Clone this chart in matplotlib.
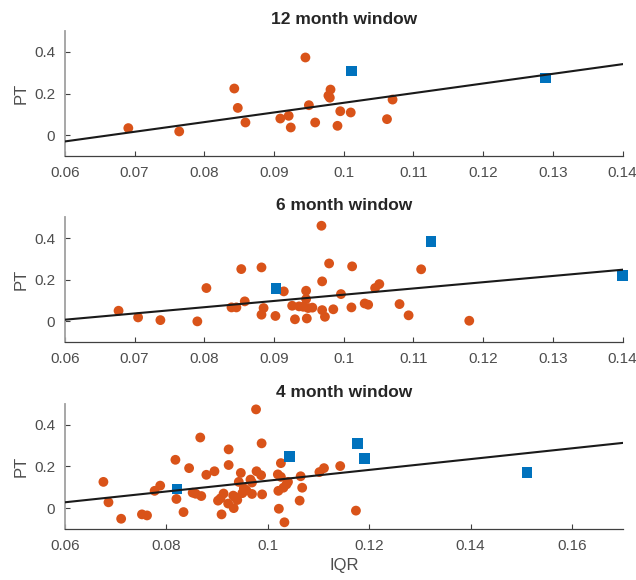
import numpy as np
import matplotlib
matplotlib.use("Agg")
import matplotlib.pyplot as plt
from matplotlib.ticker import FuncFormatter

plt.rcParams['font.family'] = ['Liberation Sans', 'DejaVu Sans']

# ---- data ----
# 12 month window
iqr_12 = [0.0691, 0.0764, 0.0843, 0.0848, 0.0859, 0.0909, 0.0921, 0.0924, 0.0945,
          0.0950, 0.0959, 0.0978, 0.0980, 0.0981, 0.0991, 0.0995, 0.1010, 0.1062, 0.1070]
pt_12 = [0.034, 0.018, 0.224, 0.131, 0.061, 0.080, 0.093, 0.037, 0.373,
         0.144, 0.061, 0.190, 0.180, 0.219, 0.045, 0.115, 0.109, 0.077, 0.171]
iqr_12_sq = [0.1011, 0.1289]
pt_12_sq = [0.309, 0.274]
fit_12 = [-0.030, 0.341]   # line value at the two x limits

# 6 month window
iqr_6 = [0.0677, 0.0705, 0.0737, 0.0790, 0.0803, 0.0839, 0.0846, 0.0853, 0.0858,
         0.0882, 0.0882, 0.0885, 0.0902, 0.0914, 0.0926, 0.0930, 0.0936, 0.0942,
         0.0946, 0.0946, 0.0949, 0.0947, 0.0955, 0.0968, 0.0969, 0.0969, 0.0973,
         0.0979, 0.0985, 0.0996, 0.1011, 0.1012, 0.1030, 0.1035, 0.1045, 0.1051,
         0.1080, 0.1093, 0.1111, 0.1180]
pt_6 = [0.051, 0.019, 0.006, 0.000, 0.160, 0.067, 0.067, 0.251, 0.096,
        0.259, 0.032, 0.064, 0.026, 0.144, 0.075, 0.010, 0.072, 0.070,
        0.147, 0.107, 0.064, 0.014, 0.066, 0.459, 0.192, 0.054, 0.022,
        0.278, 0.058, 0.131, 0.067, 0.264, 0.086, 0.080, 0.160, 0.179,
        0.083, 0.029, 0.250, 0.003]
iqr_6_sq = [0.0903, 0.1125, 0.1400]
pt_6_sq = [0.158, 0.384, 0.219]
fit_6 = [0.008, 0.248]

# 4 month window
iqr_4 = [0.0676, 0.0686, 0.0711, 0.0752, 0.0762, 0.0777, 0.0788, 0.0818, 0.0820,
         0.0834, 0.0845, 0.0852, 0.0858, 0.0869, 0.0867, 0.0879, 0.0895, 0.0923,
         0.0923, 0.0902, 0.0907, 0.0909, 0.0913, 0.0922, 0.0933, 0.0936, 0.0940,
         0.0943, 0.0947, 0.0950, 0.0953, 0.0966, 0.0969, 0.0969, 0.0977, 0.0978,
         0.0987, 0.0988, 0.0989, 0.1020, 0.1026, 0.1026, 0.1021, 0.1031, 0.1037,
         0.1040, 0.1022, 0.1033, 0.1065, 0.1068, 0.1063, 0.1102, 0.1111, 0.1143,
         0.1174, 0.0958, 0.0932]
pt_4 = [0.126, 0.028, -0.051, -0.030, -0.035, 0.083, 0.108, 0.232, 0.044,
        -0.019, 0.192, 0.074, 0.069, 0.058, 0.339, 0.160, 0.177, 0.282,
        0.207, 0.036, 0.047, -0.030, 0.070, 0.022, 0.000, 0.052, 0.039,
        0.126, 0.169, 0.072, 0.095, 0.137, 0.123, 0.068, 0.474, 0.177,
        0.158, 0.311, 0.066, 0.162, 0.150, 0.216, 0.083, 0.098, 0.114,
        0.126, -0.003, -0.068, 0.153, 0.098, 0.036, 0.173, 0.192, 0.202,
        -0.012, 0.085, 0.060]
iqr_4_sq = [0.0821, 0.1043, 0.1177, 0.1191, 0.1511]
pt_4_sq = [0.091, 0.249, 0.311, 0.237, 0.172]
fit_4 = [0.028, 0.313]

panels = [
    ("12 month window", iqr_12, pt_12, iqr_12_sq, pt_12_sq, fit_12, (0.06, 0.14)),
    ("6 month window", iqr_6, pt_6, iqr_6_sq, pt_6_sq, fit_6, (0.06, 0.14)),
    ("4 month window", iqr_4, pt_4, iqr_4_sq, pt_4_sq, fit_4, (0.06, 0.17)),
]

orange = '#D95319'
blue = '#0072BD'
txt = '#4d4d4d'

fig = plt.figure(figsize=(6.36, 5.8), dpi=100)
bottoms = [0.731, 0.410, 0.088]

for (title, x, y, xs, ys, fit, xl), b in zip(panels, bottoms):
    ax = fig.add_axes([0.102, b, 0.877, 0.2155])
    ax.scatter(x, y, s=50, color=orange, edgecolors='none', zorder=2)
    ax.scatter(xs, ys, s=58, marker='s', color=blue, edgecolors='none',
               zorder=3, clip_on=False)
    ax.plot(xl, fit, color='#1a1a1a', lw=1.5, zorder=4)
    ax.set_xlim(xl)
    ax.set_ylim(-0.1, 0.5)
    ax.set_yticks([0, 0.2, 0.4])
    if xl[1] > 0.15:
        ax.set_xticks(np.arange(0.06, 0.1601, 0.02))
    else:
        ax.set_xticks(np.arange(0.06, 0.1401, 0.01))
    fmt = FuncFormatter(lambda v, p: '%g' % round(v, 3))
    ax.xaxis.set_major_formatter(fmt)
    ax.yaxis.set_major_formatter(fmt)
    ax.spines['top'].set_visible(False)
    ax.spines['right'].set_visible(False)
    ax.spines['left'].set_color('#a0a0a0')
    ax.spines['left'].set_linewidth(1.3)
    ax.spines['bottom'].set_color('#404040')
    ax.spines['bottom'].set_linewidth(0.9)
    ax.tick_params(direction='in', length=3.5, width=0.8, color='#404040',
                   labelsize=11, labelcolor=txt, pad=7)
    ax.set_title(title, fontsize=12.5, fontweight='bold', color='#262626', pad=5)
    ax.set_ylabel('PT', fontsize=12, color=txt, labelpad=4)

ax.set_xlabel('IQR', fontsize=12, color=txt, labelpad=4)

fig.savefig('out.png', dpi=100)
